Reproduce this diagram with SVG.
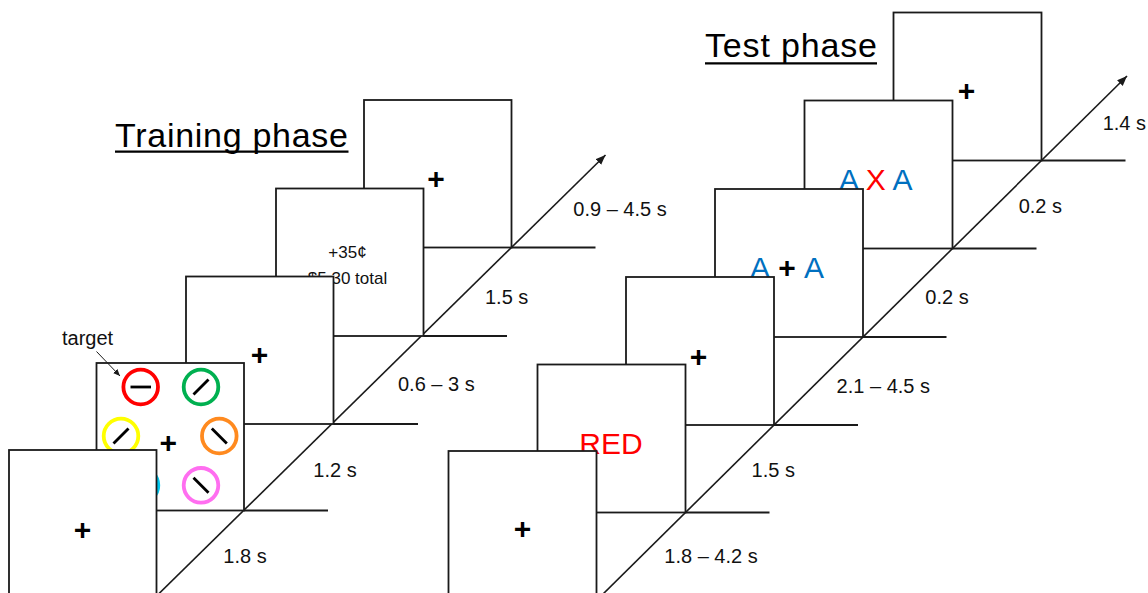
<svg xmlns="http://www.w3.org/2000/svg" width="1148" height="593" viewBox="0 0 1148 593">
  <defs>
    <style>
      .box { fill: #ffffff; stroke: #1a1a1a; stroke-width: 1.8; }
      .axis { stroke: #1a1a1a; stroke-width: 1.6; fill: none; }
      .tick { stroke: #1a1a1a; stroke-width: 1.8; }
      .lbl { font-family: "Liberation Sans", Arial, sans-serif; font-size: 20px; fill: #111111; }
      .title { font-family: "Liberation Sans", Arial, sans-serif; font-size: 34px; fill: #000000; }
      .uline { stroke: #000000; stroke-width: 2.2; }
      .fix { font-family: "Liberation Sans", Arial, sans-serif; font-size: 30px; font-weight: bold; fill: #000000; text-anchor: middle; }
      .stim { font-family: "Liberation Sans", Arial, sans-serif; font-size: 30px; text-anchor: middle; }
      .blue { fill: #0070C0; }
      .red { fill: #FF0000; }
      .fb { font-family: "Liberation Sans", Arial, sans-serif; font-size: 17px; fill: #111111; text-anchor: middle; }
      .ring { fill: none; stroke-width: 3.8; }
      .bar { stroke: #000000; stroke-width: 2.8; stroke-linecap: butt; }
    </style>
    <marker id="head" markerUnits="userSpaceOnUse" markerWidth="11" markerHeight="9" refX="10" refY="4" orient="auto">
      <path d="M0,0 L10,4 L0,8 z" fill="#1a1a1a"/>
    </marker>
    <marker id="headSmall" markerUnits="userSpaceOnUse" markerWidth="8" markerHeight="7" refX="7" refY="3" orient="auto">
      <path d="M0,0 L7,3 L0,6 z" fill="#1a1a1a"/>
    </marker>
  </defs>

  <rect width="1148" height="593" fill="#ffffff"/>

  <!-- Titles -->
  <g id="title-training">
    <text class="title" x="115" y="146.7" textLength="233" lengthAdjust="spacing">Training phase</text>
    <line class="uline" x1="115" y1="151.7" x2="348.5" y2="151.7"/>
  </g>
  <g id="title-test">
    <text class="title" x="705" y="57.3" textLength="172" lengthAdjust="spacing">Test phase</text>
    <line class="uline" x1="705" y1="63.3" x2="877" y2="63.3"/>
  </g>

  <!-- Timelines: diagonal time axes and per-screen duration ticks -->
  <g id="connectors">
    <line class="axis" x1="154.5" y1="598" x2="605.5" y2="155" marker-end="url(#head)"/>
    <line class="tick" x1="244" y1="510.5" x2="328" y2="510.5"/>
    <line class="tick" x1="333.5" y1="424" x2="418" y2="424"/>
    <line class="tick" x1="423.5" y1="336" x2="507" y2="336"/>
    <line class="tick" x1="511.5" y1="247.5" x2="595.5" y2="247.5"/>

    <line class="axis" x1="598" y1="599" x2="1127" y2="76" marker-end="url(#head)"/>
    <line class="tick" x1="685.5" y1="512.5" x2="769.5" y2="512.5"/>
    <line class="tick" x1="774" y1="425" x2="858" y2="425"/>
    <line class="tick" x1="863" y1="337" x2="946.5" y2="337"/>
    <line class="tick" x1="952.5" y1="248.5" x2="1036.5" y2="248.5"/>
    <line class="tick" x1="1041.5" y1="160.5" x2="1125.5" y2="160.5"/>
  </g>

  <!-- Duration labels -->
  <g id="labels-training">
    <text class="lbl" x="573.3" y="216">0.9 – 4.5 s</text>
    <text class="lbl" x="485" y="303.5">1.5 s</text>
    <text class="lbl" x="398" y="391">0.6 – 3 s</text>
    <text class="lbl" x="313.3" y="477">1.2 s</text>
    <text class="lbl" x="223.3" y="563.3">1.8 s</text>
  </g>
  <g id="labels-test">
    <text class="lbl" x="1102.7" y="130">1.4 s</text>
    <text class="lbl" x="1018.7" y="213">0.2 s</text>
    <text class="lbl" x="925.3" y="304">0.2 s</text>
    <text class="lbl" x="836.6" y="392.5">2.1 – 4.5 s</text>
    <text class="lbl" x="751.6" y="477">1.5 s</text>
    <text class="lbl" x="664.3" y="563">1.8 – 4.2 s</text>
  </g>

  <!-- Training screens, back to front -->
  <g id="train-iti">
    <rect class="box" x="364" y="100" width="147.5" height="147.5"/>
    <text class="fix" x="436" y="188.8">+</text>
  </g>
  <g id="train-feedback">
    <rect class="box" x="276" y="188.5" width="147.5" height="147.5"/>
    <text class="fb" x="347.5" y="258.3">+35¢</text>
    <text class="fb" x="347.5" y="284.3">$5.30 total</text>
  </g>
  <g id="train-fixation">
    <rect class="box" x="186" y="276.5" width="147.5" height="147.5"/>
    <text class="fix" x="259.5" y="364.8">+</text>
  </g>
  <g id="train-search">
    <rect class="box" x="96.5" y="363" width="147.5" height="147.5"/>
    <circle class="ring" cx="140.7" cy="387" r="17.3" stroke="#FF0000"/>
    <line class="bar" x1="130.5" y1="387" x2="151" y2="387"/>
    <circle class="ring" cx="201" cy="387" r="17.3" stroke="#00B050"/>
    <line class="bar" x1="193.5" y1="394.5" x2="208.5" y2="379.5"/>
    <circle class="ring" cx="121" cy="436" r="17.3" stroke="#FFFF00"/>
    <line class="bar" x1="113.5" y1="443.5" x2="128.5" y2="428.5"/>
    <circle class="ring" cx="219.3" cy="436" r="17.3" stroke="#FF8A1F"/>
    <line class="bar" x1="211.8" y1="428.5" x2="226.8" y2="443.5"/>
    <circle class="ring" cx="141" cy="485.3" r="17.3" stroke="#00C8F0"/>
    <circle class="ring" cx="201" cy="485.3" r="17.3" stroke="#FF6EF0"/>
    <line class="bar" x1="193.5" y1="477.8" x2="208.5" y2="492.8"/>
    <text class="fix" x="168.3" y="453.2">+</text>
  </g>
  <g id="train-target-note">
    <text class="lbl" x="62" y="345" font-size="21">target</text>
    <line x1="96.5" y1="351.5" x2="120" y2="376" stroke="#1a1a1a" stroke-width="1" marker-end="url(#headSmall)"/>
  </g>
  <g id="train-start">
    <rect class="box" x="9" y="450" width="147.5" height="147.5"/>
    <text class="fix" x="82.5" y="540">+</text>
  </g>

  <!-- Test screens, back to front -->
  <g id="test-iti">
    <rect class="box" x="893.5" y="12.5" width="148" height="148"/>
    <text class="fix" x="966.5" y="101.2">+</text>
  </g>
  <g id="test-flanker">
    <rect class="box" x="804.5" y="100.5" width="148" height="148"/>
    <text class="stim" x="875.7" y="190"><tspan class="blue">A</tspan><tspan class="red"> X </tspan><tspan class="blue">A</tspan></text>
  </g>
  <g id="test-cue">
    <rect class="box" x="715" y="189" width="148" height="148"/>
    <text class="stim" x="787" y="277.7"><tspan class="blue">A</tspan><tspan font-weight="bold" fill="#000000"> + </tspan><tspan class="blue">A</tspan></text>
  </g>
  <g id="test-fixation">
    <rect class="box" x="626" y="277" width="148" height="148"/>
    <text class="fix" x="698.4" y="366.5">+</text>
  </g>
  <g id="test-word">
    <rect class="box" x="537.5" y="364.5" width="148" height="148"/>
    <text class="stim red" x="611" y="454.3" font-size="31">RED</text>
  </g>
  <g id="test-start">
    <rect class="box" x="448.5" y="451" width="148" height="148"/>
    <text class="fix" x="522.6" y="538.8">+</text>
  </g>
</svg>
